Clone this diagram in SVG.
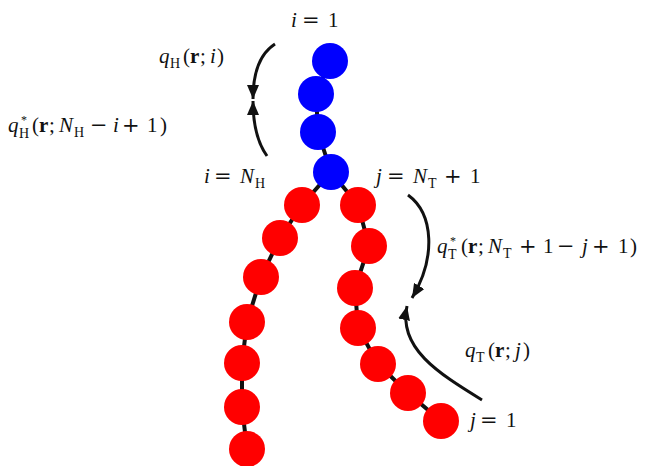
<svg xmlns="http://www.w3.org/2000/svg" width="646" height="466" viewBox="0 0 646 466">
<style>
.t{font-family:"Liberation Serif","DejaVu Serif",serif;font-size:21px;fill:#111}
.i{font-style:italic}
.b{font-weight:bold}
.s{font-size:14px}
.st{font-size:12px}
.o{font-family:"DejaVu Serif",serif;font-size:21px}
.blue{fill:#0000ff}
.red{fill:#ff0000}
.chain{fill:none;stroke:#111;stroke-width:4}
.arr{fill:none;stroke:#111;stroke-width:3;marker-end:url(#ah)}
</style>
<defs>
<marker id="ah" markerUnits="userSpaceOnUse" markerWidth="16" markerHeight="12" refX="14" refY="6" orient="auto">
<path d="M0,0 L14,6 L0,12 Z" fill="#111"/>
</marker>
</defs>
<g id="connectors">
<polyline class="chain" points="330,61 316,94 318,132 331,172 302,205 280,238 261,277 247,322 242,363 242,407 247,449"/>
<polyline class="chain" points="331,172 358,205 369,246 355,288 358,328 378,364 408,393 441,421"/>
<path class="arr" d="M275,44 C261,53 253,70 253,99"/>
<path class="arr" d="M267,156 C257,142 253,125 253,101"/>
<path class="arr" d="M408,195 C434,214 436,258 412,298"/>
<path class="arr" d="M482,400 C438,373 398,348 407,306"/>
</g>
<g id="head">
<circle class="blue" cx="330" cy="61" r="18"/>
<circle class="blue" cx="316" cy="94" r="18"/>
<circle class="blue" cx="318" cy="132" r="18"/>
<circle class="blue" cx="331" cy="172" r="18"/>
</g>
<g id="tail1">
<circle class="red" cx="302" cy="205" r="18"/>
<circle class="red" cx="280" cy="238" r="18"/>
<circle class="red" cx="261" cy="277" r="18"/>
<circle class="red" cx="247" cy="322" r="18"/>
<circle class="red" cx="242" cy="363" r="18"/>
<circle class="red" cx="242" cy="407" r="18"/>
<circle class="red" cx="247" cy="449" r="18"/>
</g>
<g id="tail2">
<circle class="red" cx="358" cy="205" r="18"/>
<circle class="red" cx="369" cy="246" r="18"/>
<circle class="red" cx="355" cy="288" r="18"/>
<circle class="red" cx="358" cy="328" r="18"/>
<circle class="red" cx="378" cy="364" r="18"/>
<circle class="red" cx="408" cy="393" r="18"/>
<circle class="red" cx="441" cy="421" r="18"/>
</g>
<g id="labels">
<text class="t" y="27"><tspan class="i" x="291">i</tspan><tspan class="o" x="302">=</tspan><tspan x="328">1</tspan></text>
<text class="t" y="63"><tspan class="i" x="159">q</tspan><tspan class="s" x="170" y="68">H</tspan><tspan x="183" y="63">(</tspan><tspan class="b" x="190">r</tspan><tspan x="200">;</tspan><tspan class="i" x="210">i</tspan><tspan x="217">)</tspan></text>
<text class="t" y="132"><tspan class="i" x="8">q</tspan><tspan class="st" x="21" y="124">*</tspan><tspan class="s" x="19" y="138">H</tspan><tspan x="32" y="132">(</tspan><tspan class="b" x="39">r</tspan><tspan x="49">;</tspan><tspan class="i" x="59">N</tspan><tspan class="s" x="74" y="137">H</tspan><tspan class="o" x="90" y="132">−</tspan><tspan class="i" x="113">i</tspan><tspan class="o" x="122">+</tspan><tspan x="147">1</tspan><tspan x="160">)</tspan></text>
<text class="t" y="183"><tspan class="i" x="204">i</tspan><tspan class="o" x="214">=</tspan><tspan class="i" x="240">N</tspan><tspan class="s" x="255" y="188">H</tspan></text>
<text class="t" y="183"><tspan class="i" x="376">j</tspan><tspan class="o" x="387">=</tspan><tspan class="i" x="413">N</tspan><tspan class="s" x="428" y="188">T</tspan><tspan class="o" x="444" y="183">+</tspan><tspan x="470">1</tspan></text>
<text class="t" y="253"><tspan class="i" x="437">q</tspan><tspan class="st" x="450" y="245">*</tspan><tspan class="s" x="448" y="259">T</tspan><tspan x="461" y="253">(</tspan><tspan class="b" x="468">r</tspan><tspan x="478">;</tspan><tspan class="i" x="488">N</tspan><tspan class="s" x="503" y="258">T</tspan><tspan class="o" x="519" y="253">+</tspan><tspan x="543">1</tspan><tspan class="o" x="557">−</tspan><tspan class="i" x="582">j</tspan><tspan class="o" x="592">+</tspan><tspan x="618">1</tspan><tspan x="630">)</tspan></text>
<text class="t" y="357"><tspan class="i" x="465">q</tspan><tspan class="s" x="476" y="362">T</tspan><tspan x="488" y="357">(</tspan><tspan class="b" x="495">r</tspan><tspan x="505">;</tspan><tspan class="i" x="515">j</tspan><tspan x="523">)</tspan></text>
<text class="t" y="427"><tspan class="i" x="470">j</tspan><tspan class="o" x="480">=</tspan><tspan x="506">1</tspan></text>
</g>
</svg>
